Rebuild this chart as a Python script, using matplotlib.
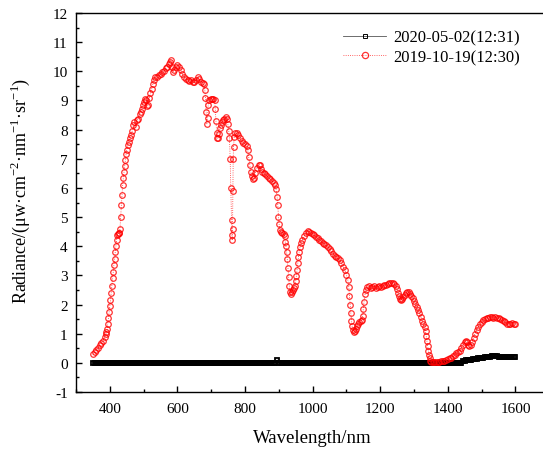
import numpy as np
import matplotlib.pyplot as plt
from matplotlib.ticker import MultipleLocator

plt.rcParams['font.family'] = 'serif'
plt.rcParams['font.serif'] = ['Liberation Serif', 'DejaVu Serif']
plt.rcParams['mathtext.fontset'] = 'custom'
plt.rcParams['mathtext.rm'] = 'Liberation Serif'
plt.rcParams['axes.unicode_minus'] = False

# ---------------------------------------------------------
# DATA
# ---------------------------------------------------------
label_black = "2020-05-02(12:31)"
label_red = "2019-10-19(12:30)"

# 2020-05-02: sampled every 5 nm from 350 to 1600
wl_black = np.arange(350, 1601, 5)
rad_black = [
    # 350 - 445
    0, 0, 0, 0, 0, 0, 0, 0, 0, 0, 0, 0, 0, 0, 0, 0, 0, 0, 0, 0,
    # 450 - 545
    0, 0, 0, 0, 0, 0, 0, 0, 0, 0, 0, 0, 0, 0, 0, 0, 0, 0, 0, 0,
    # 550 - 645
    0, 0, 0, 0, 0, 0, 0, 0, 0, 0, 0, 0, 0, 0, 0, 0, 0, 0, 0, 0,
    # 650 - 745
    0, 0, 0, 0, 0, 0, 0, 0, 0, 0, 0, 0, 0, 0, 0, 0, 0, 0, 0, 0,
    # 750 - 845
    0, 0, 0, 0, 0, 0, 0, 0, 0, 0, 0, 0, 0, 0, 0, 0, 0, 0, 0, 0,
    # 850 - 945
    0, 0, 0, 0, 0, 0, 0, 0, 0, 0.1, 0, 0, 0, 0, 0, 0, 0, 0, 0, 0,
    # 950 - 1045
    0, 0, 0, 0, 0, 0, 0, 0, 0, 0, 0, 0, 0, 0, 0, 0, 0, 0, 0, 0,
    # 1050 - 1145
    0, 0, 0, 0, 0, 0, 0, 0, 0, 0, 0, 0, 0, 0, 0, 0, 0, 0, 0, 0,
    # 1150 - 1245
    0, 0, 0, 0, 0, 0, 0, 0, 0, 0, 0, 0, 0, 0, 0, 0, 0, 0, 0, 0,
    # 1250 - 1345
    0, 0, 0, 0, 0, 0, 0, 0, 0, 0, 0, 0, 0, 0, 0, 0, 0, 0, 0, 0,
    # 1350 - 1440
    0, 0, 0, 0, 0, 0, 0, 0, 0, 0, 0, 0, 0, 0, 0, 0, 0, 0, 0,
    # 1445 - 1600
    0.05, 0.08, 0.10, 0.10, 0.10, 0.11, 0.12, 0.13, 0.14, 0.15, 0.16, 0.17,
    0.18, 0.19, 0.20, 0.21, 0.21, 0.22, 0.22, 0.22, 0.22, 0.21, 0.21, 0.20,
    0.20, 0.20, 0.20, 0.20, 0.20, 0.20, 0.20, 0.20,
]

# 2019-10-19: wavelengths and radiance
wl_red = [
    350, 355, 360, 365, 370, 375, 380, 385, 388, 390, 392, 394, 396, 398,
    400, 402, 404, 406, 408, 410, 412, 414, 416, 418, 420, 422, 424, 426,
    428, 430, 432, 434, 436, 438, 440, 442, 444, 446, 448, 450, 453, 456,
    460, 463, 466, 470, 473, 476, 480, 484, 488, 491, 494, 497, 500, 504,
    508, 511, 514, 517, 520, 524, 527, 530, 535, 540, 545, 550, 555, 560,
    565, 570, 574, 578, 581, 584, 587, 590, 595, 600, 605, 610, 615, 620,
    625, 630, 635, 640, 645, 650, 655, 660, 665, 670, 675, 678, 681, 683,
    685, 687, 689, 691, 694, 698, 702, 706, 710, 712, 714, 716, 718, 720,
    723, 726, 729, 732, 735, 739, 743, 746, 749, 752, 754, 756, 758, 760,
    761, 762, 763, 764, 765, 766, 768, 770, 775, 780, 785, 790, 795, 800,
    805, 808, 811, 814, 817, 820, 823, 826, 830, 835, 840, 843, 847, 851,
    855, 860, 865, 870, 875, 880, 885, 889, 892, 895, 897, 899, 901, 903,
    906, 910, 914, 917, 919, 921, 923, 925, 927, 929, 931, 933, 935, 938,
    941, 944, 947, 950, 952, 954, 956, 958, 960, 963, 966, 970, 975, 980,
    985, 990, 995, 1000, 1005, 1010, 1015, 1020, 1025, 1030, 1035, 1040,
    1045, 1050, 1055, 1060, 1065, 1070, 1075, 1080, 1085, 1090, 1095, 1100,
    1104, 1107, 1109, 1111, 1113, 1115, 1117, 1120, 1123, 1126, 1129, 1132,
    1135, 1138, 1142, 1145, 1148, 1150, 1152, 1155, 1158, 1162, 1167, 1172,
    1177, 1182, 1187, 1192, 1197, 1202, 1207, 1212, 1217, 1222, 1227, 1232,
    1237, 1242, 1247, 1250, 1253, 1256, 1259, 1262, 1265, 1268, 1272, 1276,
    1280, 1284, 1288, 1292, 1296, 1300, 1304, 1308, 1312, 1316, 1320, 1324,
    1328, 1331, 1334, 1336, 1338, 1340, 1342, 1344, 1346, 1348, 1351, 1355,
    1360, 1365, 1370, 1375, 1380, 1385, 1390, 1395, 1400, 1405, 1410, 1415,
    1420, 1425, 1430, 1435, 1440, 1445, 1450, 1453, 1456, 1460, 1464, 1468,
    1472, 1476, 1480, 1485, 1490, 1495, 1500, 1505, 1510, 1515, 1520, 1525,
    1530, 1535, 1540, 1545, 1550, 1555, 1560, 1565, 1570, 1575, 1580, 1585,
    1590, 1595, 1600,
]
rad_red = [
    0.29, 0.36, 0.44, 0.52, 0.60, 0.68, 0.75, 0.88, 0.98, 1.06, 1.15, 1.35, 1.55, 1.75,
    1.95, 2.15, 2.40, 2.65, 2.90, 3.10, 3.35, 3.55, 3.80, 4.00, 4.20, 4.40, 4.43, 4.44,
    4.45, 4.60, 5.00, 5.40, 5.75, 6.10, 6.35, 6.55, 6.75, 6.95, 7.15, 7.30, 7.46, 7.58,
    7.72, 7.82, 7.95, 8.15, 8.26, 8.10, 8.32, 8.38, 8.55, 8.60, 8.72, 8.85, 8.95, 9.06,
    9.00, 8.80, 8.83, 9.10, 9.25, 9.40, 9.55, 9.70, 9.80, 9.82, 9.86, 9.90, 9.98, 10.00,
    10.10, 10.15, 10.25, 10.32, 10.38, 10.15, 9.98, 10.05, 10.15, 10.20, 10.15, 10.05, 9.90, 9.80,
    9.75, 9.70, 9.68, 9.70, 9.65, 9.63, 9.70, 9.80, 9.72, 9.63, 9.60, 9.55, 9.35, 9.10,
    8.60, 8.20, 8.40, 8.85, 9.00, 9.05, 9.06, 9.04, 9.00, 8.70, 8.30, 7.90, 7.70, 7.72,
    7.85, 8.05, 8.15, 8.25, 8.32, 8.38, 8.43, 8.35, 8.20, 7.95, 7.70, 7.00, 6.00, 4.90,
    4.40, 4.20, 4.60, 5.90, 7.00, 7.40, 7.75, 7.90, 7.88, 7.80, 7.70, 7.60, 7.55, 7.50,
    7.45, 7.30, 7.05, 6.80, 6.55, 6.40, 6.32, 6.33, 6.50, 6.68, 6.78, 6.80, 6.65, 6.55,
    6.52, 6.48, 6.40, 6.33, 6.30, 6.24, 6.18, 6.10, 5.95, 5.70, 5.40, 5.00, 4.75, 4.55,
    4.48, 4.45, 4.43, 4.35, 4.15, 4.00, 3.80, 3.55, 3.25, 2.95, 2.65, 2.42, 2.37, 2.42,
    2.50, 2.58, 2.65, 2.80, 2.98, 3.20, 3.42, 3.62, 3.80, 3.98, 4.10, 4.22, 4.34, 4.44,
    4.52, 4.50, 4.46, 4.42, 4.37, 4.33, 4.28, 4.22, 4.18, 4.12, 4.07, 4.03,
    3.98, 3.92, 3.83, 3.75, 3.68, 3.62, 3.58, 3.52, 3.42, 3.30, 3.18, 3.02,
    2.85, 2.60, 2.30, 2.00, 1.70, 1.45, 1.25, 1.12, 1.06, 1.08, 1.16, 1.25,
    1.35, 1.40, 1.44, 1.48, 1.62, 1.85, 2.10, 2.35, 2.50, 2.60, 2.62, 2.58,
    2.60, 2.62, 2.58, 2.60, 2.62, 2.60, 2.63, 2.66, 2.68, 2.71, 2.73, 2.74,
    2.74, 2.71, 2.64, 2.52, 2.40, 2.28, 2.20, 2.16, 2.18, 2.26, 2.34, 2.40,
    2.43, 2.42, 2.37, 2.30, 2.22, 2.12, 2.03, 1.93, 1.83, 1.70, 1.56, 1.44,
    1.32, 1.22, 1.08, 0.92, 0.75, 0.58, 0.42, 0.28, 0.15, 0.07, 0.03, 0.03,
    0.03, 0.03, 0.04, 0.04, 0.05, 0.06, 0.08, 0.10, 0.12, 0.15, 0.18, 0.22,
    0.28, 0.33, 0.36, 0.42, 0.52, 0.62, 0.72, 0.75, 0.70, 0.62, 0.58, 0.60,
    0.70, 0.85, 1.00, 1.12, 1.22, 1.32, 1.40, 1.46, 1.50, 1.53, 1.55, 1.56,
    1.56, 1.55, 1.56, 1.55, 1.53, 1.50, 1.47, 1.44, 1.40, 1.35, 1.33, 1.35,
    1.37, 1.35, 1.33,
]

# ---------------------------------------------------------
# PLOT
# ---------------------------------------------------------
fig = plt.figure(figsize=(5.43, 4.52), dpi=100)
# axes box runs past the right edge of the figure (cropped like the original)
ax = fig.add_axes([0.140, 0.1305, 0.9026, 0.8385])

ax.plot(wl_black, rad_black, color="black", lw=0.6, marker="s", ms=3.4,
        mfc="none", mec="black", mew=1.3, label=label_black)
ax.plot(wl_red, rad_red, color="red", lw=0.6, ls=":", marker="o", ms=4.0,
        mfc="none", mec="red", mew=0.9, alpha=0.8, label=label_red)

ax.set_xlim(300, 1750)
ax.set_ylim(-1, 12)
ax.xaxis.set_major_locator(MultipleLocator(200))
ax.xaxis.set_minor_locator(MultipleLocator(100))
ax.yaxis.set_major_locator(MultipleLocator(1))
ax.yaxis.set_minor_locator(MultipleLocator(0.5))
ax.set_xticks([400, 600, 800, 1000, 1200, 1400, 1600])
ax.tick_params(which="both", direction="in", labelsize=11, width=1)
ax.tick_params(which="major", length=4.5)
ax.tick_params(which="minor", length=2.5)
ax.tick_params(axis="y", pad=6)
ax.tick_params(axis="x", pad=7)
for s in ax.spines.values():
    s.set_linewidth(1.0)

ax.set_xlabel("Wavelength/nm", fontsize=13.5, va="top")
ax.xaxis.set_label_coords(0.4816, -0.097)
ax.set_ylabel(r"Radiance/(μw·cm$^{-2}$·nm$^{-1}$·sr$^{-1}$)", fontsize=13)
ax.yaxis.set_label_coords(-0.090, 0.533)

leg = ax.legend(loc="upper right", bbox_to_anchor=(0.985, 0.965),
                bbox_transform=fig.transFigure, frameon=False, fontsize=12,
                numpoints=1, handlelength=2.6, handletextpad=0.4,
                labelspacing=0.2)
# legend handles are thinner than the plotted marks
h_black, h_red = leg.legend_handles
h_black.set_color("#555555")
h_black.set_markeredgewidth(0.7)
h_black.set_markersize(3)
h_red.set_markersize(4.5)

fig.savefig("out.png", dpi=100)
